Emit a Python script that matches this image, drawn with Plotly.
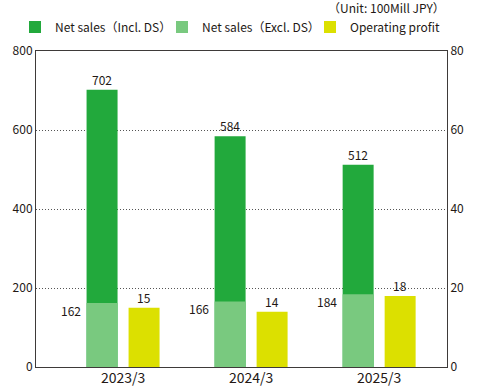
import plotly.graph_objects as go

categories = ["2023/3", "2024/3", "2025/3"]
sales_incl_ds = [702, 584, 512]
sales_excl_ds = [162, 166, 184]
operating_profit = [15, 14, 18]

C_DARK = "#22A93C"
C_LIGHT = "#79C97F"
C_YELLOW = "#DCE000"
FONT = "Noto Sans CJK JP"
TXT = "#231815"

W = 0.242
OFF_L = -0.285
OFF_R = 0.043

fig = go.Figure()
fig.add_trace(go.Bar(name="Net sales（Incl. DS）", x=categories, y=sales_incl_ds, legend="legend",
                     marker=dict(color=C_DARK, line=dict(width=0)), width=W, offset=OFF_L))
fig.add_trace(go.Bar(name="Net sales（Excl. DS）", x=categories, y=sales_excl_ds, legend="legend2",
                     marker=dict(color=C_LIGHT, line=dict(width=0)), width=W, offset=OFF_L))
fig.add_trace(go.Bar(name="Operating profit", x=categories, y=operating_profit, yaxis="y2",
                     legend="legend3",
                     marker=dict(color=C_YELLOW, line=dict(width=0)), width=W, offset=OFF_R))

ann = []
for c, v in zip(categories, sales_incl_ds):
    ann.append(dict(x=c, y=v, xref="x", yref="y", text=str(v), showarrow=False,
                    xshift=-21, yanchor="bottom", yshift=0, font=dict(size=12, color=TXT)))
for c, v in zip(categories, sales_excl_ds):
    ann.append(dict(x=c, y=v, xref="x", yref="y", text=str(v), showarrow=False,
                    xshift=-40, xanchor="right", yanchor="middle", yshift=-7,
                    font=dict(size=12, color=TXT)))
for c, v in zip(categories, operating_profit):
    ann.append(dict(x=c, y=v, xref="x", yref="y2", text=str(v), showarrow=False,
                    xshift=21, yanchor="bottom", font=dict(size=12, color=TXT)))
ann.append(dict(x=1, y=1 + 43 / 316, xref="paper", yref="paper", text="（Unit: 100Mill JPY）",
                showarrow=False, xanchor="right", yanchor="middle", font=dict(size=12, color=TXT)))


def leg(xpx):
    return dict(orientation="h", x=(xpx - 36) / 411, xanchor="left", xref="paper",
                y=1 + 24 / 316, yanchor="middle", yref="paper",
                font=dict(size=12, color=TXT), itemwidth=30,
                bgcolor="rgba(0,0,0,0)")


fig.update_layout(
    width=477, height=386,
    margin=dict(l=36, r=30, t=51, b=19, autoexpand=False),
    barmode="overlay",
    plot_bgcolor="white", paper_bgcolor="white",
    font=dict(family=FONT, size=12, color=TXT),
    showlegend=True,
    legend=leg(15), legend2=leg(162), legend3=leg(310),
    annotations=ann,
    xaxis=dict(type="category", range=[-0.68, 2.53], showline=True, linecolor="#3e3a39",
               linewidth=1, mirror=True, ticks="", tickfont=dict(size=14, color=TXT),
               ticklabelstandoff=-2, showgrid=False, fixedrange=True),
    yaxis=dict(range=[0, 800], dtick=200, showline=True, linecolor="#3e3a39", linewidth=1,
               showgrid=True, gridcolor="#555", griddash="1px,2px", gridwidth=1, zeroline=False,
               ticks="", tickfont=dict(size=12, color=TXT)),
    yaxis2=dict(range=[0, 80], dtick=20, overlaying="y", side="right", showline=True,
                linecolor="#3e3a39", linewidth=1, showgrid=False, zeroline=False, ticks="",
                tickfont=dict(size=12, color=TXT)),
)

fig.write_html("out.html", config={"displayModeBar": False},
               post_script="document.body.style.margin='0px';")
